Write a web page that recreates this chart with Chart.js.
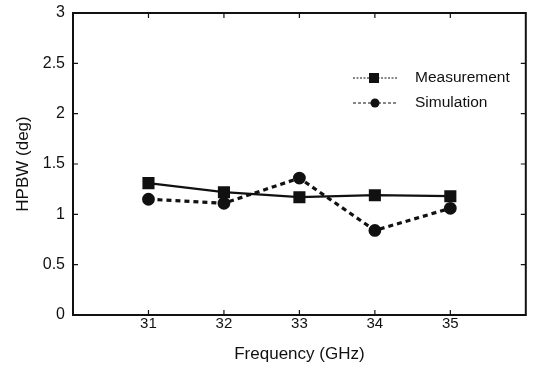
<!DOCTYPE html>
<html><head><meta charset="utf-8">
<script src="https://cdn.jsdelivr.net/npm/chart.js@4/dist/chart.umd.min.js"></script>
<style>html,body{margin:0;padding:0;background:#fff}#wrap{width:535px;height:370px}</style>
</head><body><div id="wrap"><canvas id="c" width="535" height="370"></canvas></div>
<script>
const frequencies = [31, 32, 33, 34, 35];
const measurement = [1.31, 1.22, 1.17, 1.19, 1.18];
const simulation  = [1.15, 1.11, 1.36, 0.84, 1.06];
const xTickLabels = ['31', '32', '33', '34', '35'];
const yTickValues = [0, 0.5, 1, 1.5, 2, 2.5, 3];
const seriesNames = ['Measurement', 'Simulation'];

const FONT = '"Liberation Sans", Arial, sans-serif';

const frameTicks = {
  id: 'frameTicks',
  afterDatasetsDraw(chart) {
    const {ctx, chartArea: a, scales: {x, y}} = chart;
    ctx.save();
    ctx.strokeStyle = '#111';
    ctx.lineWidth = 2;
    ctx.strokeRect(a.left, a.top, a.right - a.left, a.bottom - a.top);
    ctx.lineWidth = 1.2;
    const t = 5;
    frequencies.forEach(v => {
      const px = x.getPixelForValue(v);
      ctx.beginPath();
      ctx.moveTo(px, a.bottom); ctx.lineTo(px, a.bottom - t);
      ctx.moveTo(px, a.top); ctx.lineTo(px, a.top + t);
      ctx.stroke();
    });
    yTickValues.forEach(v => {
      const py = y.getPixelForValue(v);
      ctx.beginPath();
      ctx.moveTo(a.left, py); ctx.lineTo(a.left + t, py);
      ctx.moveTo(a.right, py); ctx.lineTo(a.right - t, py);
      ctx.stroke();
    });
    // legend
    const ds = chart.data.datasets;
    const lx = 353, ly = [78, 103];
    ds.forEach((d, i) => {
      const yy = ly[i];
      ctx.strokeStyle = '#111';
      ctx.lineWidth = 1.2;
      ctx.setLineDash(i === 0 ? [2, 1.5] : [3, 2]);
      ctx.beginPath(); ctx.moveTo(lx, yy); ctx.lineTo(lx + 44, yy); ctx.stroke();
      ctx.setLineDash([]);
      ctx.fillStyle = '#111';
      if (d.pointStyle === 'rect') {
        ctx.fillRect(lx + 16, yy - 5, 10, 10);
      } else {
        ctx.beginPath(); ctx.arc(lx + 22, yy, 4.5, 0, Math.PI * 2); ctx.fill();
      }
      ctx.font = '15.5px ' + FONT;
      ctx.textBaseline = 'middle';
      ctx.textAlign = 'left';
      ctx.fillText(d.label, lx + 62, yy);
    });
    ctx.restore();
  }
};

new Chart(document.getElementById('c'), {
  type: 'line',
  plugins: [frameTicks],
  data: {
    datasets: [
      {
        label: seriesNames[0],
        data: frequencies.map((f, i) => ({x: f, y: measurement[i]})),
        borderColor: '#111', backgroundColor: '#111',
        borderWidth: 2.2, pointStyle: 'rect', pointRadius: 7, pointHoverRadius: 7,
        pointBackgroundColor: '#111', pointBorderColor: '#111', tension: 0
      },
      {
        label: seriesNames[1],
        data: frequencies.map((f, i) => ({x: f, y: simulation[i]})),
        borderColor: '#111', backgroundColor: '#111',
        borderWidth: 3.2, borderDash: [5, 4], pointStyle: 'circle', pointRadius: 4.8, pointHoverRadius: 4.8,
        pointBackgroundColor: '#111', pointBorderColor: '#111', tension: 0
      }
    ]
  },
  options: {
    responsive: false, animation: false, devicePixelRatio: 1,
    layout: {padding: {top: 13, right: 7, left: 0, bottom: 0}},
    plugins: {legend: {display: false}, tooltip: {enabled: false}},
    scales: {
      x: {
        type: 'linear', min: 30, max: 36,
        afterBuildTicks(s) { s.ticks = frequencies.map(v => ({value: v})); },
        afterFit(s) { s.height = 55; s.paddingLeft = 0; s.paddingRight = 0; },
        grid: {display: false, drawTicks: false},
        border: {display: false},
        ticks: {
          padding: 0, color: '#111', font: {family: FONT, size: 15},
          maxRotation: 0, autoSkip: false,
          callback: (v) => xTickLabels[frequencies.indexOf(v)]
        },
        title: {display: true, text: 'Frequency (GHz)', color: '#111', font: {family: FONT, size: 17}, padding: {top: 4, bottom: 5}}
      },
      y: {
        type: 'linear', min: 0, max: 3,
        afterBuildTicks(s) { s.ticks = yTickValues.map(v => ({value: v})); },
        afterFit(s) { s.width = 73; s.paddingTop = 0; s.paddingBottom = 0; },
        grid: {display: false, drawTicks: false},
        border: {display: false},
        ticks: {padding: 8, color: '#111', font: {family: FONT, size: 16}, callback: v => String(v)},
        title: {display: true, text: 'HPBW (deg)', color: '#111', font: {family: FONT, size: 17}, padding: {top: 13, bottom: 0}}
      }
    }
  }
});
</script></body></html>
